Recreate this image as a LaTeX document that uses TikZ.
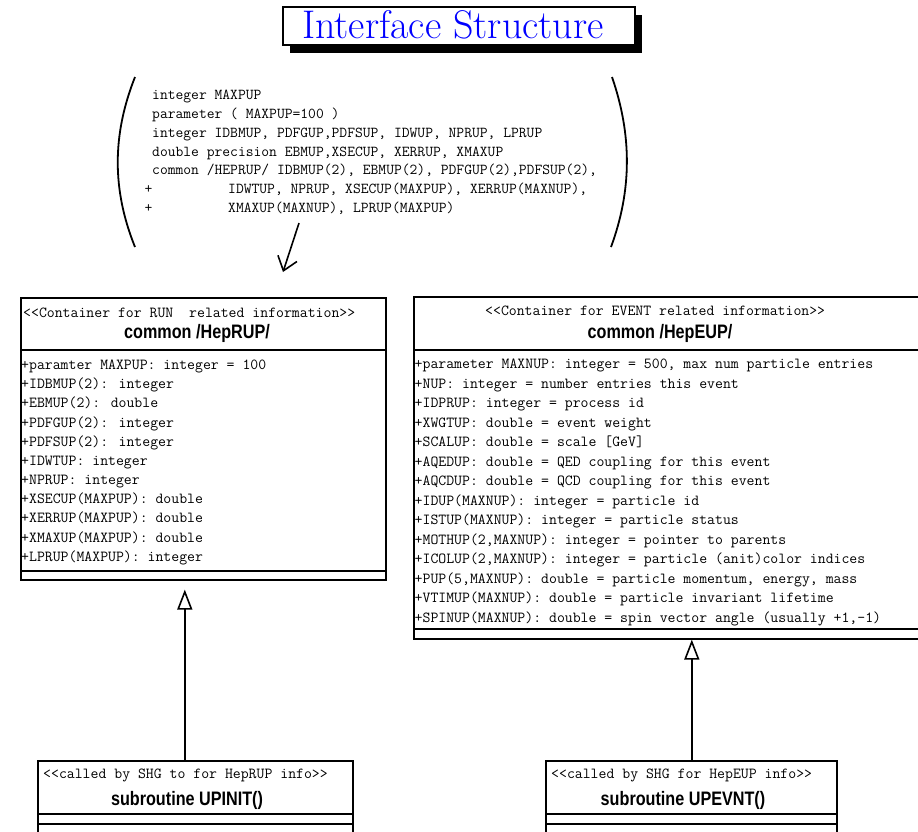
\documentclass[tikz,border=0pt]{standalone}
\usepackage{fontspec}
\usetikzlibrary{arrows.meta,shadows}
\newfontfamily\namefont[FakeStretch=0.83]{Liberation Sans}

\begin{document}
\begin{tikzpicture}[x=1pt,y=-1pt,
  compart/.style={draw, line width=1.6pt, rectangle, inner sep=0pt, anchor=north west},
  monotxt/.style={anchor=base west, inner sep=0pt, font=\ttfamily\fontsize{15.35}{17}\selectfont},
  codetxt/.style={anchor=base west, inner sep=0pt, font=\ttfamily\fontsize{15.15}{17}\selectfont},
  classname/.style={anchor=base, inner sep=0pt, font=\namefont\bfseries\fontsize{19.5}{22}\selectfont},
  genarrow/.style={line width=1.6pt, -{Triangle[open,length=20pt,width=15pt]}},
  paren/.style={line width=1.8pt},
]
% page
\fill[white] (0,0) rectangle (918,831);
\useasboundingbox (0,0) rectangle (918,831);

% title with drop shadow
\node[draw, line width=1.2pt, fill=white, inner sep=0pt, minimum width=352pt, minimum height=38pt,
  general shadow={fill=black, shadow xshift=7pt, shadow yshift=-8pt}] (titlebox) at (459,26) {};
\node[anchor=base, inner sep=0pt, text=blue, font=\fontsize{40}{44}\selectfont] (titletext) at (453,38.5) {Interface Structure};

% Fortran declaration block between large parentheses
\draw[paren] (135,77) .. controls (112,135) and (112,190) .. (135,247);
\draw[paren] (612,77) .. controls (632,135) and (632,190) .. (611,247);
\foreach \t [count=\i from 0] in {{integer MAXPUP},{parameter ( MAXPUP=100 )},
  {integer IDBMUP, PDFGUP,PDFSUP, IDWUP, NPRUP, LPRUP},
  {double precision EBMUP,XSECUP, XERRUP, XMAXUP},
  {common /HEPRUP/ IDBMUP(2), EBMUP(2), PDFGUP(2),PDFSUP(2),}}
  \node[codetxt] (code\i) at (152,{99.5+18.85*\i}) {\t};
\node[codetxt] (plusA) at (144.5,{99.5+18.85*5}) {+};
\node[codetxt] (code5) at (228,{99.5+18.85*5}) {IDWTUP, NPRUP, XSECUP(MAXPUP), XERRUP(MAXNUP),};
\node[codetxt] (plusB) at (144.5,{99.5+18.85*6}) {+};
\node[codetxt] (code6) at (228,{99.5+18.85*6}) {XMAXUP(MAXNUP), LPRUP(MAXPUP)};
\coordinate (codeptr) at (299,223);
\coordinate (codeptrend) at (283,272);
\draw[line width=1.6pt, -{Straight Barb[length=13pt,width=20pt]}] (codeptr) -- (codeptrend);

% common /HepRUP/
\node[compart, minimum width=365pt, minimum height=52pt] (runhead) at (20,297) {};
\node[compart, minimum width=365pt, minimum height=221pt] (runattr) at (20,349) {};
\node[compart, minimum width=365pt, minimum height=9pt] (runops) at (20,570) {};
\node[monotxt] (runstereo) at (23,317.5) {<{}<Container for RUN\ \ related information>{}>};
\node[classname] (runname) at (197,338) {common /HepRUP/};
\foreach \t [count=\i from 0] in {{+paramter MAXPUP: integer = 100},{+IDBMUP(2): integer},
  {+EBMUP(2): double},{+PDFGUP(2): integer},{+PDFSUP(2): integer},{+IDWTUP: integer},
  {+NPRUP: integer},{+XSECUP(MAXPUP): double},{+XERRUP(MAXPUP): double},
  {+XMAXUP(MAXPUP): double},{+LPRUP(MAXPUP): integer}}
  \node[monotxt] (runline\i) at (21,{369.5+19.17*\i}) {\t};

% common /HepEUP/
\node[compart, minimum width=515pt, minimum height=53pt] (evthead) at (413,296) {};
\node[compart, minimum width=515pt, minimum height=279pt] (evtattr) at (413,349) {};
\node[compart, minimum width=515pt, minimum height=10pt] (evtops) at (413,628) {};
\node[monotxt] (evtstereo) at (485,315.5) {<{}<Container for EVENT related information>{}>};
\node[classname] (evtname) at (660,338) {common /HepEUP/};
\foreach \t [count=\i from 0] in {{+parameter MAXNUP: integer = 500, max num particle entries},
  {+NUP: integer = number entries this event},{+IDPRUP: integer = process id},
  {+XWGTUP: double = event weight},{+SCALUP: double = scale [GeV]},
  {+AQEDUP: double = QED coupling for this event},{+AQCDUP: double = QCD coupling for this event},
  {+IDUP(MAXNUP): integer = particle id},{+ISTUP(MAXNUP): integer = particle status},
  {+MOTHUP(2,MAXNUP): integer = pointer to parents},
  {+ICOLUP(2,MAXNUP): integer = particle (anit)color indices},
  {+PUP(5,MAXNUP): double = particle momentum, energy, mass},
  {+VTIMUP(MAXNUP): double = particle invariant lifetime},
  {+SPINUP(MAXNUP): double = spin vector angle (usually +1,-1)}}
  \node[monotxt] (evtline\i) at (414.5,{368.5+19.5*\i}) {\t};

% subroutine UPINIT()
\node[compart, minimum width=315pt, minimum height=53pt] (inithead) at (37,760) {};
\node[compart, minimum width=315pt, minimum height=10pt] (initattr) at (37,813) {};
\node[compart, minimum width=315pt, minimum height=20pt] (initops) at (37,823) {};
\node[monotxt] (initstereo) at (43,778.5) {<{}<called by SHG to for HepRUP info>{}>};
\node[classname] (initname) at (187,805) {subroutine UPINIT()};

% subroutine UPEVNT()
\node[compart, minimum width=291pt, minimum height=53pt] (evnthead) at (545,760) {};
\node[compart, minimum width=291pt, minimum height=10pt] (evntattr) at (545,813) {};
\node[compart, minimum width=291pt, minimum height=20pt] (evntops) at (545,823) {};
\node[monotxt] (evntstereo) at (551,778.5) {<{}<called by SHG for HepEUP info>{}>};
\node[classname] (evntname) at (683,805) {subroutine UPEVNT()};

% generalisation arrows
\draw[genarrow, shorten >=9pt] ([xshift=-10.5pt]inithead.north) -- ([xshift=-10.5pt]inithead.north |- runops.south);
\draw[genarrow] ([xshift=0.5pt]evnthead.north) -- ([xshift=0.5pt]evnthead.north |- evtops.south);
\end{tikzpicture}
\end{document}
